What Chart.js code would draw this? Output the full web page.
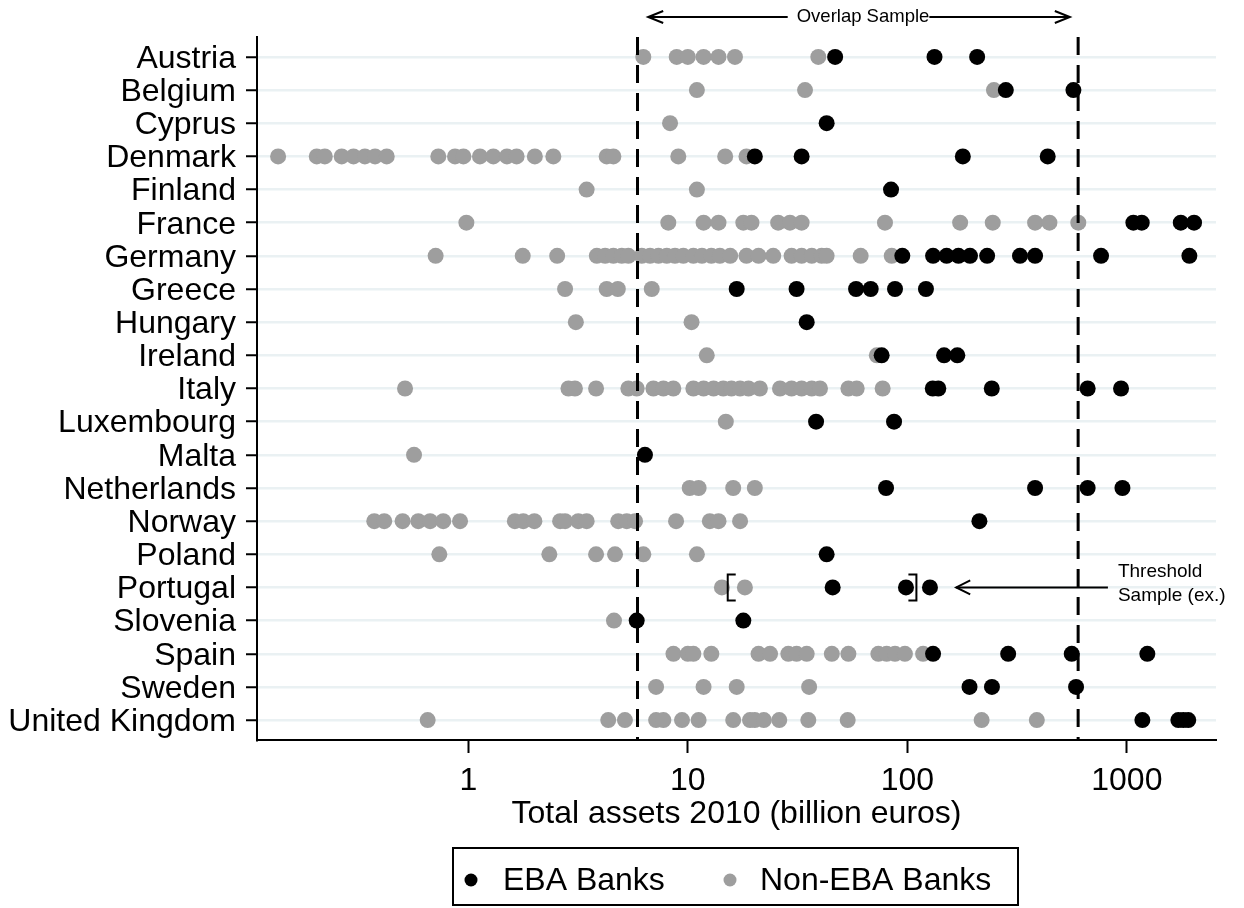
<!DOCTYPE html>
<html><head><meta charset="utf-8">
<script src="https://cdn.jsdelivr.net/npm/chart.js@4.4.1/dist/chart.umd.min.js"></script>
<style>html,body{margin:0;padding:0;background:#fff;}#wrap{width:1244px;height:908px;}</style>
</head><body><div id="wrap"><canvas id="c" width="1244" height="908"></canvas></div>
<script>
const countries = ["Austria","Belgium","Cyprus","Denmark","Finland","France","Germany","Greece","Hungary","Ireland","Italy","Luxembourg","Malta","Netherlands","Norway","Poland","Portugal","Slovenia","Spain","Sweden","United Kingdom"];

const ebaAssets = [
  [46.9,133,208],
  [281,571],
  [42.9],
  [20.2,33.0,179,436],
  [84.3],
  [1071,1169,1761,2024],
  [94.9,131,151,171,193,231,326,382,763,1927],
  [16.7,31.3,58.4,68.1,87.9,121.6],
  [34.8],
  [76.4,147,169],
  [130.6,138.4,242.5,663,941],
  [38.4,87.0],
  [6.38],
  [80.0,382,663,955],
  [213],
  [42.9],
  [45.7,98.6,126.8],
  [5.85,17.9],
  [131,288,561,1240],
  [192,243,587],
  [1177,1717,1808,1905]
];

const nonEbaAssets = [
  [6.27,8.9,10.0,11.8,13.8,16.4,39.3],
  [11.0,34.2,248],
  [8.3],
  [0.136,0.204,0.222,0.265,0.30,0.338,0.376,0.425,0.73,0.87,0.95,1.13,1.30,1.50,1.66,2.01,2.44,4.27,4.58,9.05,14.8,18.5],
  [3.46,11.0],
  [0.98,8.15,11.8,13.8,17.9,19.5,25.8,29.2,33.0,79.1,174,245,382,444,601],
  [0.71,1.77,2.54,3.85,4.20,4.58,5.0,5.36,6.17,6.73,7.35,8.02,8.74,9.54,10.6,11.6,12.8,14.0,15.6,18.5,21.0,24.5,29.7,33.0,36.7,40.7,42.9,61.3,84.9],
  [2.76,4.27,4.80,6.85],
  [3.09,10.4],
  [12.2,72.6],
  [0.515,2.86,3.06,3.82,5.36,5.85,6.97,7.74,8.59,10.6,11.8,13.1,14.5,15.8,17.3,18.9,21.3,26.3,29.7,33.0,36.7,40.0,53.9,58.8,77.2],
  [14.9],
  [0.566],
  [10.2,11.2,16.1,20.2],
  [0.373,0.414,0.502,0.592,0.670,0.769,0.917,1.63,1.78,2.0,2.62,2.76,3.17,3.46,4.82,5.27,5.75,8.84,12.6,13.8,17.3],
  [0.738,2.34,3.82,4.66,6.27,11.0],
  [14.3,18.2],
  [4.61],
  [8.6,10.0,10.6,12.8,21.0,23.7,28.7,31.3,34.8,45.3,53.9,73.8,80.5,87.9,97.5,118],
  [7.17,11.8,16.7,35.7],
  [0.653,4.34,5.17,7.17,7.74,9.41,11.2,16.1,19.2,20.2,22.2,26.1,35.4,53.5,218,389]
];

const xTickValues = [1,10,100,1000];
const overlapBounds = [5.9, 600];
const seriesNames = ["EBA Banks","Non-EBA Banks"];
const seriesColors = ["#000000","#9e9e9e"];

const FONT = '"Liberation Sans", Arial, sans-serif';

function toPoints(arr){
  const pts = [];
  arr.forEach((vals,i)=>vals.forEach(v=>pts.push({x:v,y:i})));
  return pts;
}

const annot = {
  id:'annot',
  afterDatasetsDraw(chart){
    const {ctx, chartArea:a, scales:{x,y}} = chart;
    ctx.save();
    ctx.strokeStyle='#000';
    ctx.lineWidth=3; ctx.setLineDash([18,10]);
    overlapBounds.forEach(v=>{
      const px=x.getPixelForValue(v);
      ctx.beginPath(); ctx.moveTo(px,a.top); ctx.lineTo(px,a.bottom); ctx.stroke();
    });
    ctx.setLineDash([]);
    ctx.lineWidth=2;
    const oy = a.top-20;
    const l = x.getPixelForValue(6.6), r = x.getPixelForValue(550);
    ctx.font = '18.5px '+FONT; ctx.fillStyle='#000'; ctx.textAlign='center'; ctx.textBaseline='middle';
    const txt='Overlap Sample'; const w=ctx.measureText(txt).width; const mid=(l+r)/2+4;
    ctx.fillText(txt, mid, oy);
    ctx.beginPath(); ctx.moveTo(l,oy); ctx.lineTo(mid-w/2-9,oy); ctx.moveTo(mid+w/2,oy); ctx.lineTo(r,oy); ctx.stroke();
    ctx.beginPath(); ctx.moveTo(l+15,oy-6); ctx.lineTo(l,oy); ctx.lineTo(l+15,oy+6); ctx.stroke();
    ctx.beginPath(); ctx.moveTo(r-15,oy-6); ctx.lineTo(r,oy); ctx.lineTo(r-15,oy+6); ctx.stroke();
    const yP = y.getPixelForValue(countries.indexOf('Portugal'));
    const bl = x.getPixelForValue(15.2), br = x.getPixelForValue(110);
    ctx.beginPath(); ctx.moveTo(bl+8,yP-13); ctx.lineTo(bl,yP-13); ctx.lineTo(bl,yP+13); ctx.lineTo(bl+8,yP+13); ctx.stroke();
    ctx.beginPath(); ctx.moveTo(br-8,yP-13); ctx.lineTo(br,yP-13); ctx.lineTo(br,yP+13); ctx.lineTo(br-8,yP+13); ctx.stroke();
    const tip = x.getPixelForValue(167), end = x.getPixelForValue(820);
    ctx.beginPath(); ctx.moveTo(tip,yP); ctx.lineTo(end,yP); ctx.stroke();
    ctx.beginPath(); ctx.moveTo(tip+14,yP-7); ctx.lineTo(tip,yP); ctx.lineTo(tip+14,yP+7); ctx.stroke();
    ctx.font='19px '+FONT; ctx.textAlign='left';
    ctx.fillText('Threshold', end+10, yP-16);
    ctx.fillText('Sample (ex.)', end+10, yP+8);
    ctx.restore();
  },
  afterDraw(chart){
    const ctx = chart.ctx;
    ctx.save();
    ctx.strokeStyle='#000'; ctx.lineWidth=2;
    ctx.strokeRect(453,848,565,57);
    const cy=880;
    const items=[{dot:471,text:503},{dot:730,text:760}];
    ctx.font='32px '+FONT; ctx.textAlign='left'; ctx.textBaseline='middle';
    chart.data.datasets.forEach((ds,i)=>{
      ctx.fillStyle=ds.backgroundColor;
      ctx.beginPath(); ctx.arc(items[i].dot,cy,6.5,0,Math.PI*2); ctx.fill();
      ctx.fillStyle='#000';
      ctx.fillText(ds.label, items[i].text, cy+1);
    });
    ctx.restore();
  }
};

new Chart(document.getElementById('c'), {
  type:'scatter',
  data:{datasets:[
    {label:seriesNames[0], data:toPoints(ebaAssets), backgroundColor:seriesColors[0], borderWidth:0, pointRadius:8, pointHoverRadius:8},
    {label:seriesNames[1], data:toPoints(nonEbaAssets), backgroundColor:seriesColors[1], borderWidth:0, pointRadius:8, pointHoverRadius:8}
  ]},
  options:{
    responsive:false, animation:false, devicePixelRatio:1, events:[],
    layout:{padding:{left:0,right:28,top:37,bottom:68}},
    plugins:{legend:{display:false}, tooltip:{enabled:false}},
    scales:{
      x:{
        type:'logarithmic', min:0.109, max:2548,
        afterBuildTicks:(s)=>{ s.ticks = xTickValues.map(v=>({value:v})); },
        afterFit:(s)=>{ s.height = 100; },
        ticks:{callback:(v)=>String(v), color:'#000', font:{family:FONT,size:32}, padding:9, maxRotation:0, autoSkip:false},
        grid:{display:true, drawOnChartArea:false, drawTicks:true, tickLength:13, tickColor:'#000', tickWidth:2},
        border:{display:true,color:'#000',width:2},
        title:{display:true, text:'Total assets 2010 (billion euros)', color:'#000', font:{family:FONT,size:32}, padding:{top:0,bottom:7}}
      },
      y:{
        type:'linear', min:-0.6, max:20.6, reverse:true,
        afterBuildTicks:(s)=>{ s.ticks = countries.map((c,i)=>({value:i})); },
        afterFit:(s)=>{ s.width = 257; },
        ticks:{callback:(v)=>countries[v], color:'#000', font:{family:FONT,size:32}, padding:10, labelOffset:2, autoSkip:false},
        grid:{color:'#eaf1f3', lineWidth:2.5, tickLength:11, tickColor:'#000', tickWidth:2},
        border:{display:true,color:'#000',width:2}
      }
    }
  },
  plugins:[annot]
});
</script>
</body></html>
